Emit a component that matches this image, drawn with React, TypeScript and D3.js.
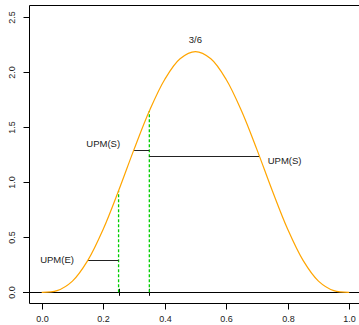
import { useEffect, useRef } from "react";
import * as d3 from "d3";

// density curve (x step 0.05)
const densX = [0, 0.05, 0.1, 0.15, 0.2, 0.25, 0.3, 0.35, 0.4, 0.45, 0.5, 0.55, 0.6, 0.65, 0.7, 0.75, 0.8, 0.85, 0.9, 0.95, 1];
const densY = [0, 0.015, 0.102, 0.29, 0.573, 0.923, 1.297, 1.648, 1.935, 2.123, 2.188, 2.123, 1.935, 1.648, 1.297, 0.923, 0.573, 0.29, 0.102, 0.015, 0];

const xTicks = [0, 0.2, 0.4, 0.6, 0.8, 1];
const yTicks = [0, 0.5, 1, 1.5, 2, 2.5];

// dashed verticals: x and height
const markX = [0.25, 0.35];
const markTop = [0.923, 1.648];

// horizontal segments [x1, x2, y]
const segments = [
  [0.15, 0.25, 0.29],
  [0.3, 0.35, 1.297],
  [0.35, 0.708, 1.237],
];

const labels = [
  { text: "UPM(E)", x: 0.05, y: 0.3, anchor: "middle" },
  { text: "UPM(S)", x: 0.2, y: 1.35, anchor: "middle" },
  { text: "UPM(S)", x: 0.735, y: 1.2, anchor: "start" },
  { text: "3/6", x: 0.5, y: 2.3, anchor: "middle" },
];

const W = 359;
const H = 325;

const App = () => {
  const svgRef = useRef<SVGSVGElement>(null);

  useEffect(() => {
    const svg = d3.select(svgRef.current);
    svg.selectAll("*").remove();

    const x = d3.scaleLinear().domain([0, 1]).range([41.7, 349.2]);
    const y = d3.scaleLinear().domain([0, 2.5]).range([292.3, 17.3]);
    const font = "Liberation Sans, Arial, sans-serif";

    // box (right side runs off the picture)
    svg.append("path")
      .attr("d", `M${W + 2},5.5 H29.5 V303.5 H${W + 2}`)
      .attr("fill", "none")
      .attr("stroke", "#000")
      .attr("stroke-width", 1);

    // y axis ticks + labels
    yTicks.forEach((t) => {
      const py = Math.round(y(t)) + 0.5;
      svg.append("line").attr("x1", 23.5).attr("x2", 29.5).attr("y1", py).attr("y2", py).attr("stroke", "#000");
      svg.append("text")
        .attr("transform", `translate(15,${py}) rotate(-90)`)
        .attr("text-anchor", "middle")
        .attr("font-family", font)
        .attr("font-size", 9)
        .attr("fill", "#222")
        .text(t.toFixed(1));
    });

    // x axis ticks + labels
    xTicks.forEach((t) => {
      const px = Math.round(x(t)) + 0.5;
      svg.append("line").attr("x1", px).attr("x2", px).attr("y1", 303.5).attr("y2", 309.5).attr("stroke", "#000");
      svg.append("text")
        .attr("x", px)
        .attr("y", 322)
        .attr("text-anchor", "middle")
        .attr("font-family", font)
        .attr("font-size", 9)
        .attr("fill", "#222")
        .text(t.toFixed(1));
    });

    // zero line
    svg.append("line")
      .attr("x1", 23).attr("x2", W)
      .attr("y1", Math.round(y(0)) + 0.5).attr("y2", Math.round(y(0)) + 0.5)
      .attr("stroke", "#000");

    // small ticks on the zero line
    markX.forEach((m) => {
      const px = Math.round(x(m)) + 0.5;
      svg.append("line")
        .attr("x1", px).attr("x2", px)
        .attr("y1", y(0) - 3.5).attr("y2", y(0) + 3.5)
        .attr("stroke", "#000");
    });

    // green dashed verticals
    markX.forEach((m, i) => {
      svg.append("path")
        .attr("d", `M${x(m)},${y(0)} V${y(markTop[i])}`)
        .attr("fill", "none")
        .attr("stroke", "rgb(0,205,0)")
        .attr("stroke-width", 1.3)
        .attr("stroke-dasharray", "3 2");
    });

    // horizontal segments
    segments.forEach(([a, b, v]) => {
      svg.append("line")
        .attr("x1", x(a)).attr("x2", x(b))
        .attr("y1", Math.round(y(v)) + 0.5).attr("y2", Math.round(y(v)) + 0.5)
        .attr("stroke", "#222");
    });

    // density curve
    const line = d3.line<number>()
      .x((d, i) => x(densX[i]))
      .y((d) => y(d))
      .curve(d3.curveCatmullRom);
    svg.append("path")
      .datum(densY)
      .attr("d", line)
      .attr("fill", "none")
      .attr("stroke", "orange")
      .attr("stroke-width", 1.2);

    // labels
    labels.forEach((l) => {
      svg.append("text")
        .attr("x", x(l.x))
        .attr("y", y(l.y))
        .attr("dy", "0.35em")
        .attr("text-anchor", l.anchor)
        .attr("font-family", font)
        .attr("font-size", 9.5)
        .attr("fill", "#222")
        .text(l.text);
    });
  }, []);

  return (
    <svg ref={svgRef} width={W} height={H} style={{ position: "absolute", left: 0, top: 0, background: "#fff" }} />
  );
};

export default App;
